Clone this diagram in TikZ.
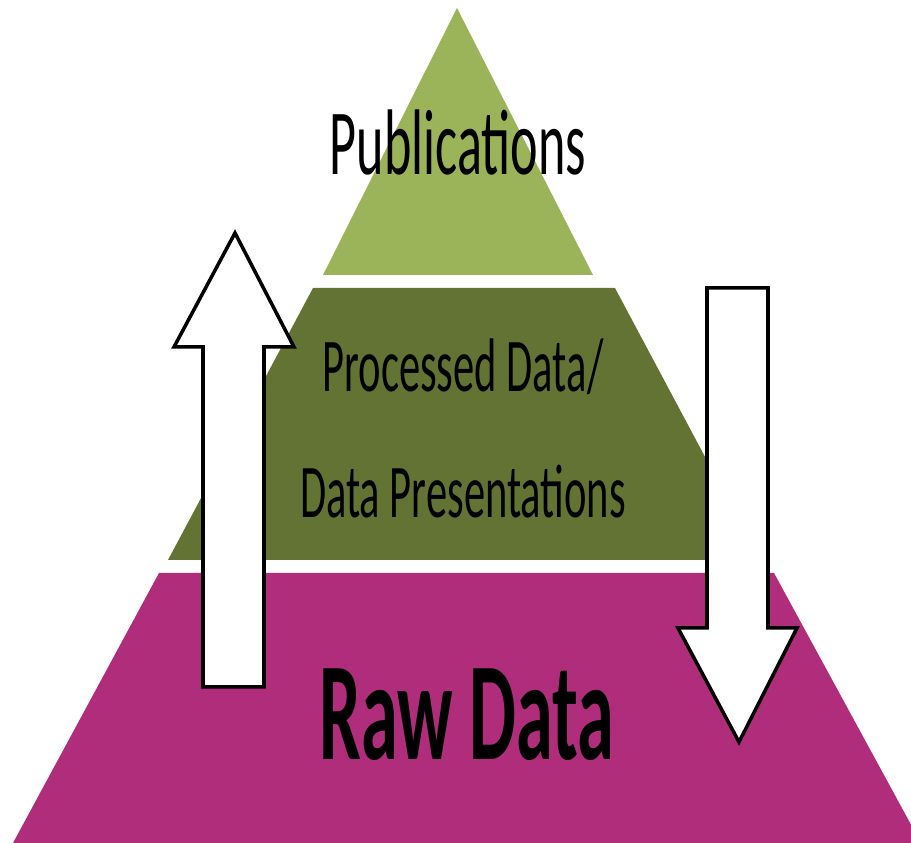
\documentclass[tikz,border=0pt]{standalone}
\usepackage{fontspec}
\setmainfont{Carlito}
\usetikzlibrary{positioning}
\definecolor{topcolor}{RGB}{155, 179, 89}
\definecolor{midcolor}{RGB}{98, 115, 52}
\definecolor{basecolor}{RGB}{175, 45, 122}
\tikzset{
    % Tiers
    tier/.style={draw=none},
    % Labels (narrow, stretched lettering)
    tierlabel/.style={anchor=base, inner sep=0pt, xscale=0.56, transform shape, text=black},
    % Block arrows
    blockarrow/.style={draw=black, fill=white, line width=1pt, line join=miter},
}
\begin{document}
\begin{tikzpicture}[x=0.01cm, y=0.01cm]
\useasboundingbox (0,0) rectangle (911,843);
\clip (0,0) rectangle (911,843);

% Pyramid tiers
\fill[tier, basecolor] (13,0) -- (159,270) -- (774,270) -- (921,0) -- cycle;
\fill[tier, midcolor] (168,283) -- (313,555) -- (615,555) -- (760,283) -- cycle;
\fill[tier, topcolor] (323,568) -- (457,835) -- (593,568) -- cycle;

% Tier labels
\node (pubs) [tierlabel, font=\fontsize{26.5}{30}\selectfont] at (458,668) {Publications};
\node (proc) [tierlabel, font=\fontsize{21.6}{25}\selectfont] at (463,451) {Processed Data/};
\node (pres) [tierlabel, font=\fontsize{21.6}{25}\selectfont] at (463,325) {Data Presentations};
\node (raw) [tierlabel, xscale=0.95, font=\fontsize{39.8}{44}\selectfont\bfseries] at (467,83) {Raw Data};

% Upward arrow
\draw[blockarrow] (203,156) -- (203,496) -- (174,496) -- (235,610) -- (294,496) -- (264,496) -- (264,156) -- cycle;
% Downward arrow
\draw[blockarrow] (707,555) -- (707,215) -- (678,215) -- (739,101) -- (797,215) -- (768,215) -- (768,555) -- cycle;

\end{tikzpicture}
\end{document}
